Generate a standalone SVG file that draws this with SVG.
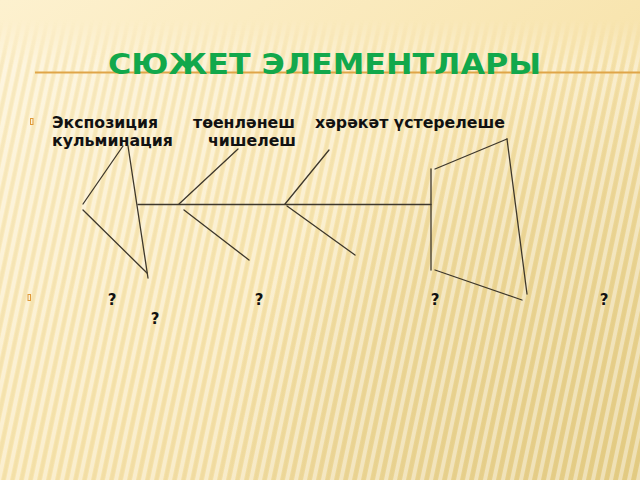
<svg xmlns="http://www.w3.org/2000/svg" width="640" height="480" viewBox="0 0 640 480">
<defs>
<linearGradient id="bg" x1="0" y1="0" x2="1" y2="1">
<stop offset="0" stop-color="#fdf1cf"/>
<stop offset="0.5" stop-color="#f8e5b0"/>
<stop offset="1" stop-color="#ebd493"/>
</linearGradient>
<radialGradient id="dark" cx="640" cy="480" r="420" gradientUnits="userSpaceOnUse">
<stop offset="0" stop-color="#e3cb82" stop-opacity="0.9"/>
<stop offset="0.7" stop-color="#e6cf8a" stop-opacity="0.45"/>
<stop offset="1" stop-color="#e6cf8a" stop-opacity="0"/>
</radialGradient>
<pattern id="stripes" width="9" height="40" patternUnits="userSpaceOnUse" patternTransform="skewX(-12)">
<rect x="0" y="0" width="4" height="40" fill="#ffffff" opacity="0.4"/>
<rect x="5" y="0" width="3" height="40" fill="#d9bf74" opacity="0.12"/>
</pattern>
<linearGradient id="fadeG" x1="0" y1="0" x2="0" y2="1">
<stop offset="0" stop-color="#fff" stop-opacity="0"/>
<stop offset="0.04" stop-color="#fff" stop-opacity="0"/>
<stop offset="0.14" stop-color="#fff" stop-opacity="1"/>
<stop offset="1" stop-color="#fff" stop-opacity="1"/>
</linearGradient>
<mask id="fade"><rect width="640" height="480" fill="url(#fadeG)"/></mask>
<style>
.ln{stroke:#3e382c;stroke-width:1.3;fill:none;stroke-linecap:round}
.tx{font-family:"DejaVu Sans","Liberation Sans",sans-serif;font-weight:bold;font-size:15px;fill:#111}
.q{font-family:"DejaVu Sans","Liberation Sans",sans-serif;font-weight:bold;font-size:15px;fill:#111;text-anchor:middle}
.bul{fill:none;stroke:#e09a3a;stroke-width:1}
</style>
</defs>
<rect width="640" height="480" fill="url(#bg)"/>
<rect width="640" height="480" fill="url(#dark)"/>
<rect width="640" height="480" fill="url(#stripes)" mask="url(#fade)"/>

<g id="title">
<line x1="35" y1="72.5" x2="640" y2="72.5" stroke="#e0a548" stroke-width="2"/>
<text x="108" y="74" font-family="DejaVu Sans, Liberation Sans, sans-serif" font-weight="bold" font-size="29" fill="#12a84b" textLength="433" lengthAdjust="spacingAndGlyphs">СЮЖЕТ ЭЛЕМЕНТЛАРЫ</text>
</g>

<g id="labels">
<rect class="bul" x="30.5" y="118.5" width="2.5" height="6"/>
<text class="tx" x="52" y="128" textLength="106" lengthAdjust="spacingAndGlyphs">Экспозиция</text>
<text class="tx" x="193" y="128" textLength="102" lengthAdjust="spacingAndGlyphs">төенләнеш</text>
<text class="tx" x="315" y="128" textLength="190" lengthAdjust="spacingAndGlyphs">хәрәкәт үстерелеше</text>
<text class="tx" x="52" y="146" textLength="121" lengthAdjust="spacingAndGlyphs">кульминация</text>
<text class="tx" x="208" y="146" textLength="88" lengthAdjust="spacingAndGlyphs">чишелеш</text>
</g>

<g id="questions">
<rect class="bul" x="28" y="294.5" width="2.5" height="6"/>
<text class="q" x="112" y="305">?</text>
<text class="q" x="259" y="305">?</text>
<text class="q" x="435" y="305">?</text>
<text class="q" x="604" y="305">?</text>
<text class="q" x="155" y="324">?</text>
</g>

<g id="connectors">
<line class="ln" x1="123" y1="146" x2="83" y2="204"/>
<line class="ln" x1="128" y1="146" x2="148" y2="278"/>
<line class="ln" x1="83" y1="210" x2="147" y2="273"/>
<line class="ln" x1="138" y1="204.5" x2="431" y2="204.5"/>
<line class="ln" x1="179" y1="204" x2="238" y2="149"/>
<line class="ln" x1="184" y1="210" x2="249" y2="260"/>
<line class="ln" x1="285" y1="204" x2="329" y2="150"/>
<line class="ln" x1="287" y1="206" x2="355" y2="255"/>
<line class="ln" x1="431" y1="169" x2="431" y2="270"/>
<line class="ln" x1="435" y1="169" x2="507" y2="139"/>
<line class="ln" x1="507" y1="139" x2="527" y2="294"/>
<line class="ln" x1="435" y1="270" x2="522" y2="300"/>
</g>
</svg>
